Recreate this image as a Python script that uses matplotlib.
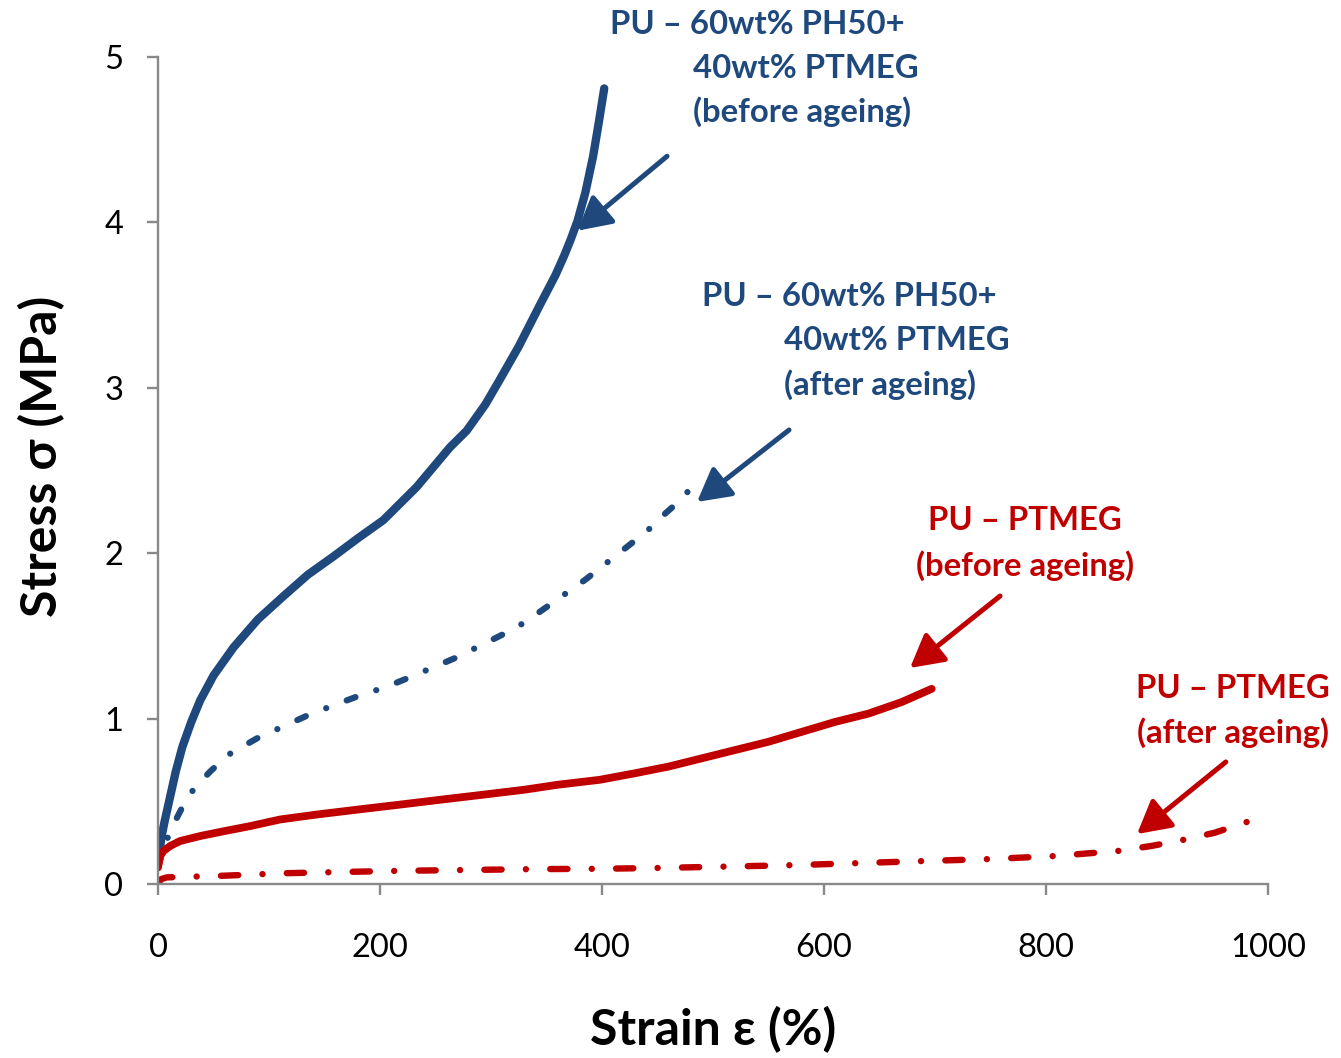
import matplotlib
matplotlib.use("Agg")
import matplotlib.pyplot as plt

# ---------------- data ----------------
blue_before_strain = [0, 3, 6, 11, 16, 22, 30, 38, 50, 68, 90, 113, 135, 158, 180, 203,
                      233, 263, 278, 295, 308, 325, 344, 358, 366, 372, 378, 385, 392, 397, 402]
blue_before_stress = [0.12, 0.28, 0.38, 0.53, 0.68, 0.83, 0.98, 1.11, 1.26, 1.43, 1.60, 1.74,
                      1.87, 1.98, 2.09, 2.20, 2.40, 2.64, 2.74, 2.90, 3.05, 3.25, 3.50, 3.68,
                      3.80, 3.90, 4.01, 4.18, 4.40, 4.60, 4.81]

blue_after_strain = [0, 5, 10, 17, 27, 37, 47, 63, 89, 112, 135, 158, 182, 205, 227, 248,
                     269, 290, 311, 330, 347, 385, 419, 440, 457, 472, 487]
blue_after_stress = [0.10, 0.22, 0.30, 0.40, 0.53, 0.61, 0.68, 0.78, 0.88, 0.95, 1.02, 1.08,
                     1.14, 1.19, 1.25, 1.31, 1.37, 1.44, 1.51, 1.58, 1.66, 1.84, 2.02, 2.13,
                     2.24, 2.33, 2.45]

red_before_strain = [0, 2, 5, 11, 20, 38, 60, 83, 110, 143, 180, 218, 255, 293, 330, 360,
                     398, 430, 460, 490, 520, 550, 580, 610, 640, 670, 697]
red_before_stress = [0.10, 0.17, 0.20, 0.23, 0.26, 0.29, 0.32, 0.35, 0.39, 0.42, 0.45, 0.48,
                     0.51, 0.54, 0.57, 0.60, 0.63, 0.67, 0.71, 0.76, 0.81, 0.86, 0.92, 0.98,
                     1.03, 1.10, 1.18]

red_after_strain = [0, 3, 8, 59, 113, 168, 221, 281, 340, 398, 450, 510, 578, 634, 691, 750,
                    808, 865, 895, 923, 952, 981, 988]
red_after_stress = [0.0, 0.03, 0.04, 0.05, 0.065, 0.073, 0.08, 0.085, 0.09, 0.092, 0.097,
                    0.105, 0.115, 0.127, 0.139, 0.151, 0.169, 0.20, 0.23, 0.266, 0.31, 0.375, 0.40]

x_ticks = [0, 200, 400, 600, 800, 1000]
y_ticks = [0, 1, 2, 3, 4, 5]

# annotation arrows: (tail_x, tail_y, tip_x, tip_y) in data units
arrows = [
    (458.6, 4.40, 378.0, 3.95, "blue"),
    (568.5, 2.745, 485.6, 2.31, "blue"),
    (758.6, 1.741, 677.5, 1.306, "red"),
    (962.0, 0.738, 882.0, 0.302, "red"),
]

BLUE = "#1F497D"
RED = "#C00000"
GRAY = "#898989"
colors = {"blue": BLUE, "red": RED}

plt.rcParams["font.family"] = ["Lato", "DejaVu Sans"]

W, H = 1341, 1058
fig = plt.figure(figsize=(W / 100, H / 100), dpi=100)
ax = fig.add_axes([158 / W, 1 - 884 / H, (1268 - 158) / W, (884 - 57) / H])

ax.plot(blue_before_strain, blue_before_stress, color=BLUE, lw=6.0,
        solid_capstyle="round", solid_joinstyle="round")
l2, = ax.plot(blue_after_strain, blue_after_stress, color=BLUE, lw=4.5,
              dash_capstyle="round")
l2.set_dashes((1.5, 3.5, 0.01, 3.5))
ax.plot(red_before_strain, red_before_stress, color=RED, lw=5.6,
        solid_capstyle="round", solid_joinstyle="round")
l4, = ax.plot(red_after_strain, red_after_stress, color=RED, lw=4.6,
              dash_capstyle="round")
l4.set_dashes((2.7, 3.8, 0.01, 3.8))

ax.set_xlim(0, 1000)
ax.set_ylim(0, 5)
ax.set_xticks(x_ticks)
ax.set_yticks(y_ticks)
ax.set_xticklabels([str(v) for v in x_ticks])
ax.set_yticklabels([str(v) for v in y_ticks])

for s in ["top", "right"]:
    ax.spines[s].set_visible(False)
for s in ["left", "bottom"]:
    ax.spines[s].set_color(GRAY)
    ax.spines[s].set_linewidth(1.7)
ax.tick_params(axis="both", direction="out", length=8, width=1.7, color=GRAY,
               labelsize=23.5, labelcolor="black")
ax.tick_params(axis="x", pad=27)
ax.tick_params(axis="y", pad=17)

ax.set_xlabel("Strain ε (%)", fontsize=36, fontweight="bold", va="center")
ax.xaxis.set_label_coords(0.5, -0.1765)
ax.set_ylabel("Stress σ (MPa)", fontsize=36, fontweight="bold", va="center")
ax.yaxis.set_label_coords(-0.1045, 0.5175)

for tx, ty, hx, hy, c in arrows:
    ax.annotate("", xy=(hx, hy), xytext=(tx, ty), xycoords="data", textcoords="data",
                annotation_clip=False,
                arrowprops=dict(arrowstyle="-|>,head_length=1.0,head_width=0.55",
                                mutation_scale=20, lw=3.6, color=colors[c],
                                shrinkA=0, shrinkB=0))

# annotation texts: (text, centre x px, centre y px, colour)
labels = [
    ("PU – 60wt% PH50+", 757, 24, BLUE),
    ("40wt% PTMEG", 806, 68, BLUE),
    ("(before ageing)", 802, 112, BLUE),
    ("PU – 60wt% PH50+", 849, 296, BLUE),
    ("40wt% PTMEG", 897, 340, BLUE),
    ("(after ageing)", 880, 385, BLUE),
    ("PU – PTMEG", 1025, 521, RED),
    ("(before ageing)", 1025, 566, RED),
    ("PU – PTMEG", 1233, 688, RED),
    ("(after ageing)", 1233, 733, RED),
]
for t, px, py, c in labels:
    fig.text(px / W, 1 - py / H, t, ha="center", va="center", fontsize=23.7,
             fontweight="bold", color=c)

fig.savefig("out.png", dpi=100)
